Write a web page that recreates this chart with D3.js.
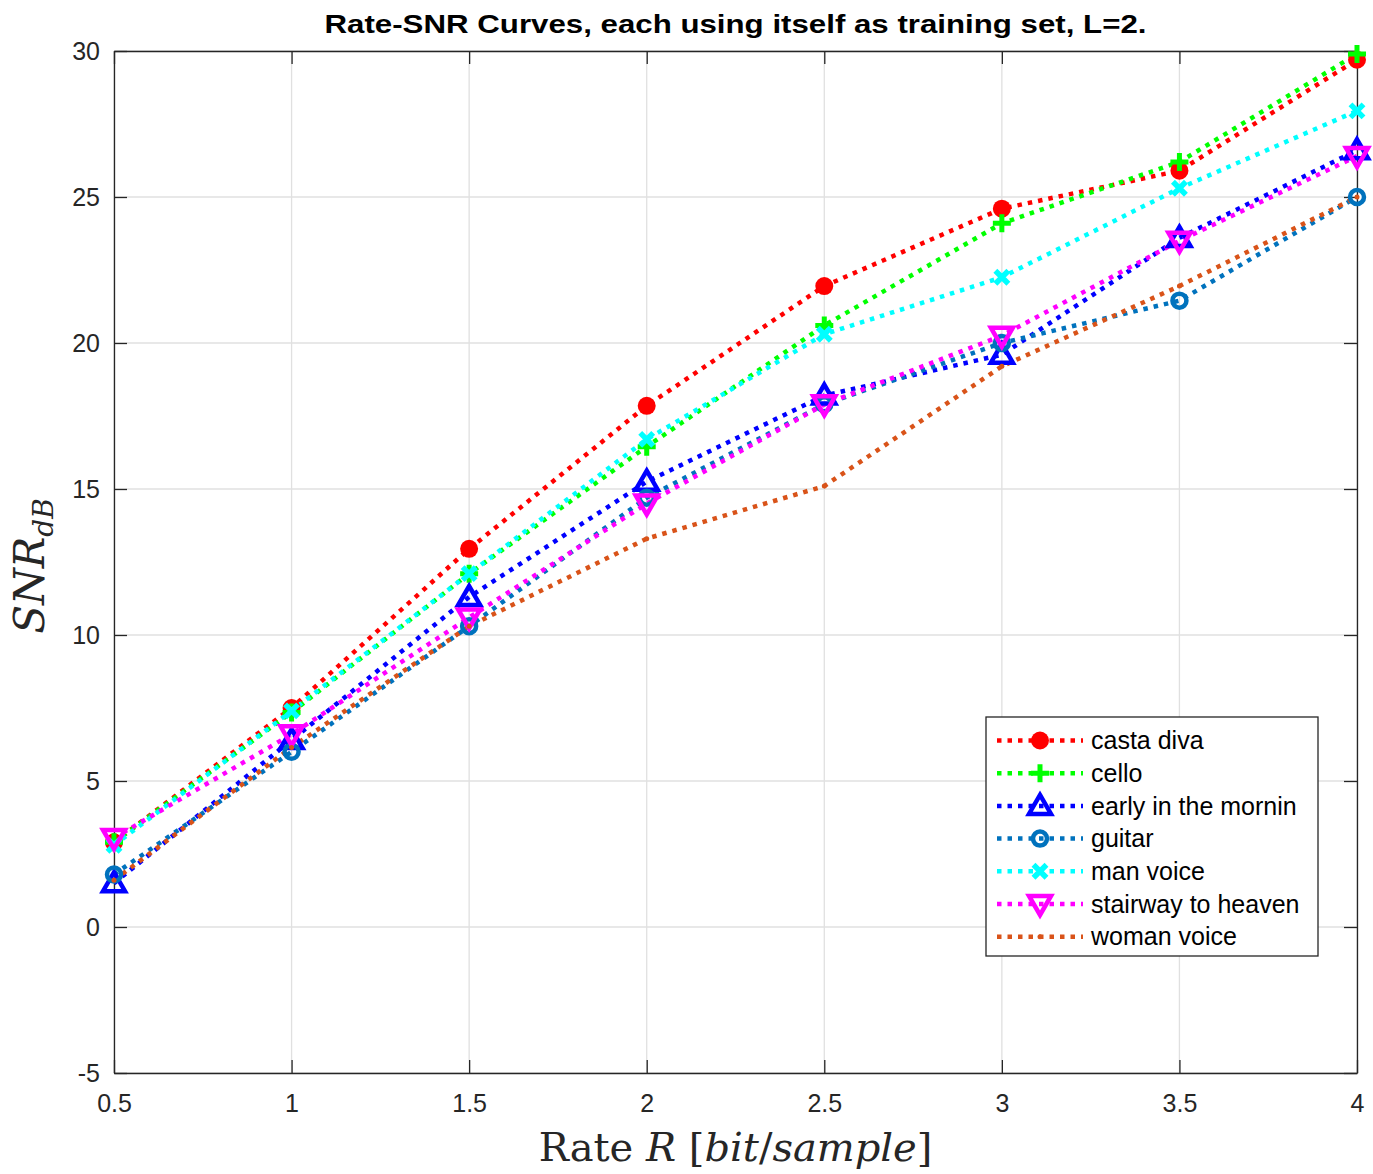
<!DOCTYPE html>
<html>
<head>
<meta charset="utf-8">
<script src="https://cdn.jsdelivr.net/npm/d3@7"></script>
<style>
  body { margin: 0; background: #fff; }
  text { font-family: "Liberation Sans", Arial, sans-serif; }
</style>
</head>
<body>
<svg width="1373" height="1174"></svg>
<script>
// rates on x axis
var rates = [0.5, 1, 1.5, 2, 2.5, 3, 3.5, 4];

// SNR values (dB)
var castaDiva  = [2.9, 7.5, 12.95, 17.85, 21.95, 24.6, 25.9, 29.7];
var cello      = [2.9, 7.35, 12.1, 16.45, 20.6, 24.1, 26.2, 29.9];
var earlyMorn  = [1.5, 6.4, 11.3, 15.25, 18.2, 19.6, 23.6, 26.6];
var guitar     = [1.8, 6.0, 10.3, 14.7, 17.9, 20.0, 21.45, 25.0];
var manVoice   = [2.8, 7.4, 12.1, 16.7, 20.3, 22.25, 25.3, 27.95];
var stairway   = [3.05, 6.6, 10.6, 14.5, 17.9, 20.25, 23.5, 26.4];
var womanVoice = [1.6, 6.15, 10.3, 13.3, 15.1, 19.2, 21.95, 25.0];

var seriesNames = ["casta diva", "cello", "early in the mornin", "guitar",
                   "man voice", "stairway to heaven", "woman voice"];
var seriesColors = ["#ff0000", "#00ff00", "#0000ff", "#0072bd", "#00ffff", "#ff00ff", "#d95319"];
var seriesMarkers = ["dot", "plus", "triUp", "ring", "cross", "triDown", "point"];

var xTicks = [0.5, 1, 1.5, 2, 2.5, 3, 3.5, 4];
var yTicks = [-5, 0, 5, 10, 15, 20, 25, 30];

var series = [castaDiva, cello, earlyMorn, guitar, manVoice, stairway, womanVoice].map(function(v, i) {
    return { name: seriesNames[i], color: seriesColors[i], marker: seriesMarkers[i],
             points: v.map(function(y, j) { return { x: rates[j], y: y }; }) };
});

var svg = d3.select("svg");
var mLeft = 114, mRight = 1357, mTop = 51, mBottom = 1073;

var x = d3.scaleLinear().domain([0.5, 4]).range([mLeft, mRight]);
var y = d3.scaleLinear().domain([-5, 30]).range([mBottom, mTop]);

// grid
var grid = svg.append("g");
grid.selectAll(".gx").data(xTicks).enter().append("line")
    .attr("x1", function(d) { return x(d); }).attr("x2", function(d) { return x(d); })
    .attr("y1", mTop).attr("y2", mBottom)
    .attr("stroke", "#e0e0e0").attr("stroke-width", 1.3);
grid.selectAll(".gy").data(yTicks).enter().append("line")
    .attr("y1", function(d) { return y(d); }).attr("y2", function(d) { return y(d); })
    .attr("x1", mLeft).attr("x2", mRight)
    .attr("stroke", "#e0e0e0").attr("stroke-width", 1.3);

// axes
var xAxis = svg.append("g").attr("transform", "translate(0," + mBottom + ")")
    .call(d3.axisBottom(x).tickValues(xTicks).tickSizeInner(-13).tickSizeOuter(0).tickPadding(21)
        .tickFormat(function(d) { return String(d); }));
var xAxisTop = svg.append("g").attr("transform", "translate(0," + mTop + ")")
    .call(d3.axisTop(x).tickValues(xTicks).tickSizeInner(-13).tickSizeOuter(0).tickFormat(""));
var yAxis = svg.append("g").attr("transform", "translate(" + mLeft + ",0)")
    .call(d3.axisLeft(y).tickValues(yTicks).tickSizeInner(-13).tickSizeOuter(0).tickPadding(14)
        .tickFormat(function(d) { return String(d); }));
var yAxisRight = svg.append("g").attr("transform", "translate(" + mRight + ",0)")
    .call(d3.axisRight(y).tickValues(yTicks).tickSizeInner(-13).tickSizeOuter(0).tickFormat(""));

[xAxis, xAxisTop, yAxis, yAxisRight].forEach(function(a) {
    a.select(".domain").attr("stroke", "#262626").attr("stroke-width", 1.3);
    a.selectAll(".tick line").attr("stroke", "#262626").attr("stroke-width", 1.3);
    a.selectAll(".tick text").attr("fill", "#262626").style("font-size", "25px")
        .style("font-family", "'Liberation Sans', Arial, sans-serif");
});
yAxis.selectAll(".tick text").attr("dy", "0.35em");

// lines
var line = d3.line().x(function(d) { return x(d.x); }).y(function(d) { return y(d.y); });

var plot = svg.append("g");
series.forEach(function(s) {
    plot.append("path")
        .datum(s.points)
        .attr("d", line)
        .attr("fill", "none")
        .attr("stroke", s.color)
        .attr("stroke-width", 4.5)
        .attr("stroke-dasharray", "4.5,6");
});

function drawMarker(g, type, color, cx, cy) {
    if (type === "dot") {
        g.append("circle").attr("cx", cx).attr("cy", cy).attr("r", 9).attr("fill", color);
    } else if (type === "plus") {
        g.append("path").attr("d", "M" + (cx - 9) + "," + cy + "H" + (cx + 9) + "M" + cx + "," + (cy - 9) + "V" + (cy + 9))
            .attr("stroke", color).attr("stroke-width", 5).attr("fill", "none");
    } else if (type === "triUp") {
        g.append("path").attr("d", "M" + cx + "," + (cy - 11) + "L" + (cx + 11) + "," + (cy + 8) + "L" + (cx - 11) + "," + (cy + 8) + "Z")
            .attr("stroke", color).attr("stroke-width", 4.5).attr("fill", "none").attr("stroke-linejoin", "miter");
    } else if (type === "triDown") {
        g.append("path").attr("d", "M" + cx + "," + (cy + 11) + "L" + (cx + 11) + "," + (cy - 8) + "L" + (cx - 11) + "," + (cy - 8) + "Z")
            .attr("stroke", color).attr("stroke-width", 4.5).attr("fill", "none").attr("stroke-linejoin", "miter");
    } else if (type === "ring") {
        g.append("circle").attr("cx", cx).attr("cy", cy).attr("r", 7)
            .attr("fill", "none").attr("stroke", color).attr("stroke-width", 4.5);
    } else if (type === "cross") {
        g.append("path").attr("d", "M" + (cx - 6.5) + "," + (cy - 6.5) + "L" + (cx + 6.5) + "," + (cy + 6.5) + "M" + (cx + 6.5) + "," + (cy - 6.5) + "L" + (cx - 6.5) + "," + (cy + 6.5))
            .attr("stroke", color).attr("stroke-width", 5.5).attr("fill", "none");
    } else if (type === "point") {
        g.append("circle").attr("cx", cx).attr("cy", cy).attr("r", 2.5).attr("fill", color);
    }
}

series.forEach(function(s) {
    var g = plot.append("g");
    s.points.forEach(function(p) { drawMarker(g, s.marker, s.color, x(p.x), y(p.y)); });
});

// title
svg.append("text")
    .attr("x", (mLeft + mRight) / 2).attr("y", 33)
    .attr("text-anchor", "middle")
    .attr("textLength", 822).attr("lengthAdjust", "spacingAndGlyphs")
    .style("font-size", "26px").style("font-weight", "bold").attr("fill", "#000")
    .text("Rate-SNR Curves, each using itself as training set, L=2.");

// x label
var xl = svg.append("text")
    .attr("x", (mLeft + mRight) / 2).attr("y", 1161)
    .attr("text-anchor", "middle")
    .style("font-family", "'DejaVu Serif', 'Liberation Serif', serif")
    .style("font-size", "40px").attr("fill", "#262626");
xl.append("tspan").text("Rate ");
xl.append("tspan").style("font-style", "italic").text("R");
xl.append("tspan").text(" [");
xl.append("tspan").style("font-style", "italic").text("bit");
xl.append("tspan").text("/");
xl.append("tspan").style("font-style", "italic").text("sample");
xl.append("tspan").text("]");

// y label
var yl = svg.append("text")
    .attr("transform", "translate(44," + ((mTop + mBottom) / 2 + 4) + ") rotate(-90)")
    .attr("text-anchor", "middle")
    .style("font-family", "'DejaVu Serif', 'Liberation Serif', serif")
    .style("font-size", "42px").style("font-style", "italic").attr("fill", "#262626");
yl.append("tspan").text("SNR");
yl.append("tspan").attr("dy", 9).style("font-size", "28px").text("dB");

// legend
var lg = svg.append("g").attr("transform", "translate(986,717)");
lg.append("rect").attr("width", 332).attr("height", 239)
    .attr("fill", "#fff").attr("stroke", "#262626").attr("stroke-width", 1.3);
series.forEach(function(s, i) {
    var ry = 23.5 + i * 32.7;
    lg.append("line").attr("x1", 11).attr("x2", 97).attr("y1", ry).attr("y2", ry)
        .attr("stroke", s.color).attr("stroke-width", 4.5).attr("stroke-dasharray", "4.5,6");
    drawMarker(lg, s.marker, s.color, 54, ry);
    lg.append("text").attr("x", 105).attr("y", ry).attr("dy", "0.35em")
        .style("font-size", "25px").attr("fill", "#000").text(s.name);
});
</script>
</body>
</html>
